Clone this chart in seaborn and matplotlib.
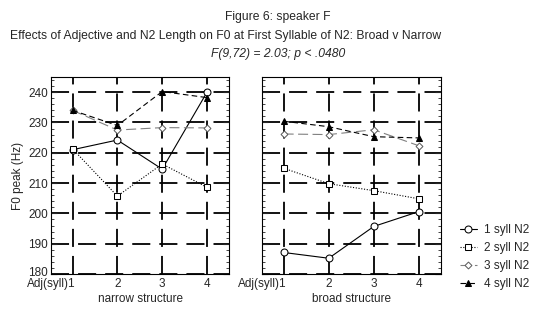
import matplotlib
matplotlib.use("Agg")
import matplotlib.pyplot as plt
import matplotlib.transforms as mtransforms
from matplotlib.ticker import MultipleLocator
import seaborn as sns

sns.set_style("white")
plt.rcParams["font.family"] = ["Liberation Sans", "DejaVu Sans"]
plt.rcParams["font.size"] = 8.5

adj_syll = [1, 2, 3, 4]
tick_labels = ["Adj(syll)1", "2", "3", "4"]
series_names = ["1 syll N2", "2 syll N2", "3 syll N2", "4 syll N2"]

narrow_1 = [221.0, 224.2, 214.6, 240.0]
narrow_2 = [221.3, 205.7, 216.3, 208.6]
narrow_3 = [234.0, 227.5, 228.3, 228.2]
narrow_4 = [234.0, 229.0, 240.2, 238.2]

broad_1 = [187.1, 185.2, 195.7, 200.6]
broad_2 = [214.9, 209.8, 207.5, 204.8]
broad_3 = [226.2, 226.0, 227.6, 222.3]
broad_4 = [230.4, 228.6, 225.3, 224.9]

styles = [
    dict(color="black", linestyle="-", marker="o", markersize=5, mfc="white", mec="black", lw=0.8),
    dict(color="black", linestyle=(0, (1, 1.5)), marker="s", markersize=5, mfc="white", mec="black", lw=0.8),
    dict(color="#808080", linestyle=(0, (9, 4)), marker="D", markersize=3.5, mfc="white", mec="#606060", lw=0.8),
    dict(color="black", linestyle=(0, (5, 3)), marker="^", markersize=4, mfc="black", mec="black", lw=0.8),
]

fig = plt.figure(figsize=(5.42, 3.09), dpi=100)
ax_n = fig.add_axes([51 / 542, 35 / 309, 178 / 542, 197 / 309])
ax_b = fig.add_axes([262 / 542, 35 / 309, 179 / 542, 197 / 309])

panels = [
    (ax_n, [narrow_1, narrow_2, narrow_3, narrow_4], "narrow structure"),
    (ax_b, [broad_1, broad_2, broad_3, broad_4], "broad structure"),
]

for ax, data, xlab in panels:
    for vals, name, st in zip(data, series_names, styles):
        sns.lineplot(x=adj_syll, y=vals, ax=ax, label=name, zorder=3, **st)
    ax.set_xlim(0.52, 4.49)
    ax.set_ylim(180, 245)
    ax.set_xticks(adj_syll)
    ax.set_xticklabels(tick_labels)
    ax.set_yticks(range(180, 241, 10))
    ax.yaxis.set_minor_locator(MultipleLocator(2))
    ax.tick_params(axis="y", which="both", direction="in", left=True, right=True)
    ax.tick_params(axis="y", which="major", length=4, width=0.8, pad=2)
    ax.tick_params(axis="y", which="minor", length=2, width=0.6)
    ax.tick_params(axis="x", which="both", length=0, pad=3)
    ax.grid(True, which="major", color="black", linestyle=(0, (10, 5)), linewidth=1.3)
    ax.set_axisbelow(True)
    for sp in ax.spines.values():
        sp.set_color("black")
        sp.set_linewidth(0.8)
    ax.set_xlabel(xlab, labelpad=2)
    ax.legend_.remove()
    # first tick label sits to the left, with the "1" on the tick
    lab = ax.get_xticklabels()[0]
    lab.set_horizontalalignment("right")
    lab.set_transform(lab.get_transform() + mtransforms.ScaledTranslation(3 / 100, 0, fig.dpi_scale_trans))

ax_n.set_ylabel("F0 peak (Hz)", labelpad=3)
ax_b.set_yticklabels([])
ax_b.set_ylabel("")
# bottom y label sits just above the axis line
lab180 = ax_n.get_yticklabels()[0]
lab180.set_verticalalignment("bottom")
lab180.set_transform(lab180.get_transform() + mtransforms.ScaledTranslation(0, -5 / 100, fig.dpi_scale_trans))

handles, labels = ax_b.get_legend_handles_labels()
fig.legend(handles, labels, loc="center left", bbox_to_anchor=(449 / 542, 1 - 257 / 309),
           frameon=False, handlelength=1.5, handletextpad=0.6, labelspacing=0.5, fontsize=8.5)

fig.text(0.513, 1 - 17 / 309, "Figure 6: speaker F", ha="center", va="center", fontsize=8.7)
fig.text(0.416, 1 - 36 / 309,
         "Effects of Adjective and N2 Length on F0 at First Syllable of N2: Broad v Narrow",
         ha="center", va="center", fontsize=8.7)
fig.text(0.513, 1 - 54 / 309, "F(9,72) = 2.03; p < .0480", ha="center", va="center",
         style="italic", fontsize=8.7)

fig.savefig("out.png", dpi=100)
